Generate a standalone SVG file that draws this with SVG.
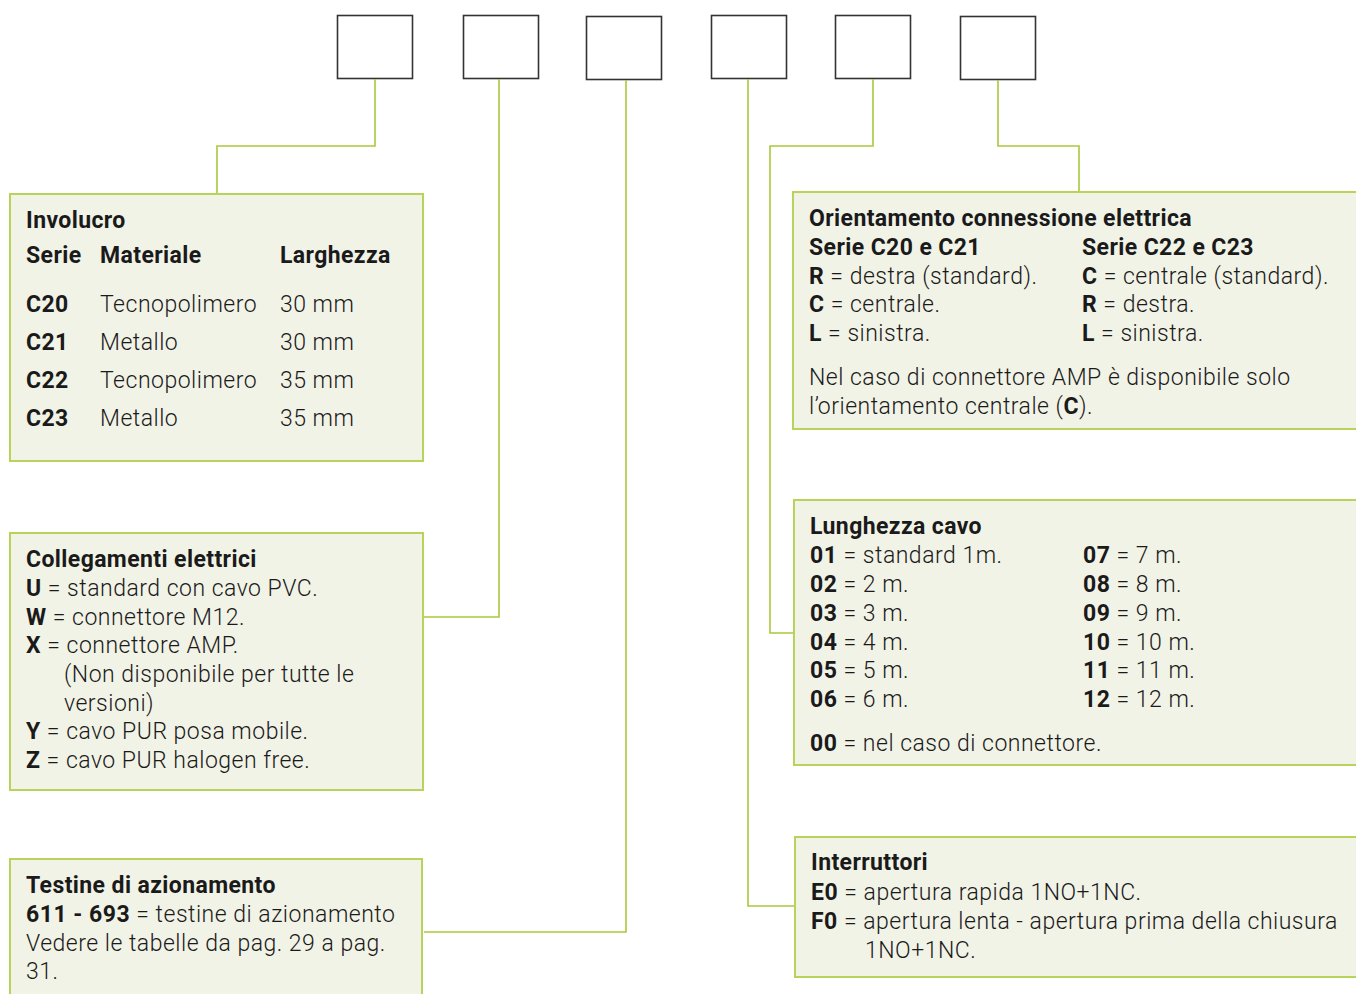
<svg xmlns="http://www.w3.org/2000/svg" width="1356" height="994" viewBox="0 0 1356 994">
<style>
.box{fill:#fff;stroke:#333;stroke-width:1.6}
.panel{fill:#f2f3e7;stroke:#b8d35a;stroke-width:2}
.conn{fill:none;stroke:#a9c83c;stroke-width:1.6}
text{font-family:Roboto,"Liberation Sans",sans-serif;fill:#1a1a1a;font-weight:300;font-size:23px;letter-spacing:0.5px}
.t{font-weight:700;letter-spacing:0.4px}
.b{font-weight:700}
</style>
<rect width="1356" height="994" fill="#fff"/>
<g id="code-boxes">
<rect id="box1" class="box" x="337.5" y="15.5" width="75" height="63"/>
<rect id="box2" class="box" x="463.5" y="15.5" width="75" height="63"/>
<rect id="box3" class="box" x="586.5" y="16.5" width="75" height="63"/>
<rect id="box4" class="box" x="711.5" y="15.5" width="75" height="63"/>
<rect id="box5" class="box" x="835.5" y="15.5" width="75" height="63"/>
<rect id="box6" class="box" x="960.5" y="16.5" width="75" height="63"/>
</g>
<g id="connectors">
<polyline class="conn" points="375,79 375,146 217,146 217,194"/>
<polyline class="conn" points="499,79 499,617 424,617"/>
<polyline class="conn" points="626,80 626,932 424,932"/>
<polyline class="conn" points="748,79 748,906 795,906"/>
<polyline class="conn" points="873,79 873,146 770,146 770,633 794,633"/>
<polyline class="conn" points="998,80 998,146 1079,146 1079,192"/>
</g>
<g id="involucro">
<rect class="panel" x="10" y="194" width="413" height="267"/>
<text class="t" x="26" y="228">Involucro</text>
<text class="t" x="26" y="263">Serie</text>
<text class="t" x="100" y="263">Materiale</text>
<text class="t" x="280" y="263">Larghezza</text>
<text class="t" x="26" y="312">C20</text><text x="100" y="312">Tecnopolimero</text><text x="280" y="312">30 mm</text>
<text class="t" x="26" y="350">C21</text><text x="100" y="350">Metallo</text><text x="280" y="350">30 mm</text>
<text class="t" x="26" y="388">C22</text><text x="100" y="388">Tecnopolimero</text><text x="280" y="388">35 mm</text>
<text class="t" x="26" y="426">C23</text><text x="100" y="426">Metallo</text><text x="280" y="426">35 mm</text>
</g>
<g id="collegamenti">
<rect class="panel" x="10" y="533" width="413" height="257"/>
<text class="t" x="26" y="567">Collegamenti elettrici</text>
<text x="26" y="596"><tspan class="b">U</tspan> = standard con cavo PVC.</text>
<text x="26" y="625"><tspan class="b">W</tspan> = connettore M12.</text>
<text x="26" y="653"><tspan class="b">X</tspan> = connettore AMP.</text>
<text x="64" y="682">(Non disponibile per tutte le</text>
<text x="64" y="711">versioni)</text>
<text x="26" y="739"><tspan class="b">Y</tspan> = cavo PUR posa mobile.</text>
<text x="26" y="768"><tspan class="b">Z</tspan> = cavo PUR halogen free.</text>
</g>
<g id="testine">
<rect class="panel" x="10" y="859" width="412" height="150"/>
<text class="t" x="26" y="893">Testine di azionamento</text>
<text x="26" y="922"><tspan class="b">611 - 693</tspan> = testine di azionamento</text>
<text x="26" y="951">Vedere le tabelle da pag. 29 a pag.</text>
<text x="26" y="979">31.</text>
</g>
<g id="orientamento">
<rect class="panel" x="793" y="192" width="580" height="237"/>
<text class="t" x="809" y="226">Orientamento connessione elettrica</text>
<text class="t" x="809" y="255">Serie C20 e C21</text>
<text class="t" x="1082" y="255">Serie C22 e C23</text>
<text x="809" y="284"><tspan class="b">R</tspan> = destra (standard).</text>
<text x="809" y="312"><tspan class="b">C</tspan> = centrale.</text>
<text x="809" y="341"><tspan class="b">L</tspan> = sinistra.</text>
<text x="1082" y="284"><tspan class="b">C</tspan> = centrale (standard).</text>
<text x="1082" y="312"><tspan class="b">R</tspan> = destra.</text>
<text x="1082" y="341"><tspan class="b">L</tspan> = sinistra.</text>
<text x="809" y="385">Nel caso di connettore AMP è disponibile solo</text>
<text x="809" y="414">l’orientamento centrale (<tspan class="b">C</tspan>).</text>
</g>
<g id="lunghezza">
<rect class="panel" x="794" y="500" width="580" height="265"/>
<text class="t" x="810" y="534">Lunghezza cavo</text>
<text x="810" y="563"><tspan class="b">01</tspan> = standard 1m.</text>
<text x="810" y="592"><tspan class="b">02</tspan> = 2 m.</text>
<text x="810" y="621"><tspan class="b">03</tspan> = 3 m.</text>
<text x="810" y="650"><tspan class="b">04</tspan> = 4 m.</text>
<text x="810" y="678"><tspan class="b">05</tspan> = 5 m.</text>
<text x="810" y="707"><tspan class="b">06</tspan> = 6 m.</text>
<text x="1083" y="563"><tspan class="b">07</tspan> = 7 m.</text>
<text x="1083" y="592"><tspan class="b">08</tspan> = 8 m.</text>
<text x="1083" y="621"><tspan class="b">09</tspan> = 9 m.</text>
<text x="1083" y="650"><tspan class="b">10</tspan> = 10 m.</text>
<text x="1083" y="678"><tspan class="b">11</tspan> = 11 m.</text>
<text x="1083" y="707"><tspan class="b">12</tspan> = 12 m.</text>
<text x="810" y="751"><tspan class="b">00</tspan> = nel caso di connettore.</text>
</g>
<g id="interruttori">
<rect class="panel" x="795" y="837" width="580" height="140"/>
<text class="t" x="811" y="870">Interruttori</text>
<text x="811" y="900"><tspan class="b">E0</tspan> = apertura rapida 1NO+1NC.</text>
<text x="811" y="929"><tspan class="b">F0</tspan> = apertura lenta - apertura prima della chiusura</text>
<text x="865" y="958">1NO+1NC.</text>
</g>
</svg>
